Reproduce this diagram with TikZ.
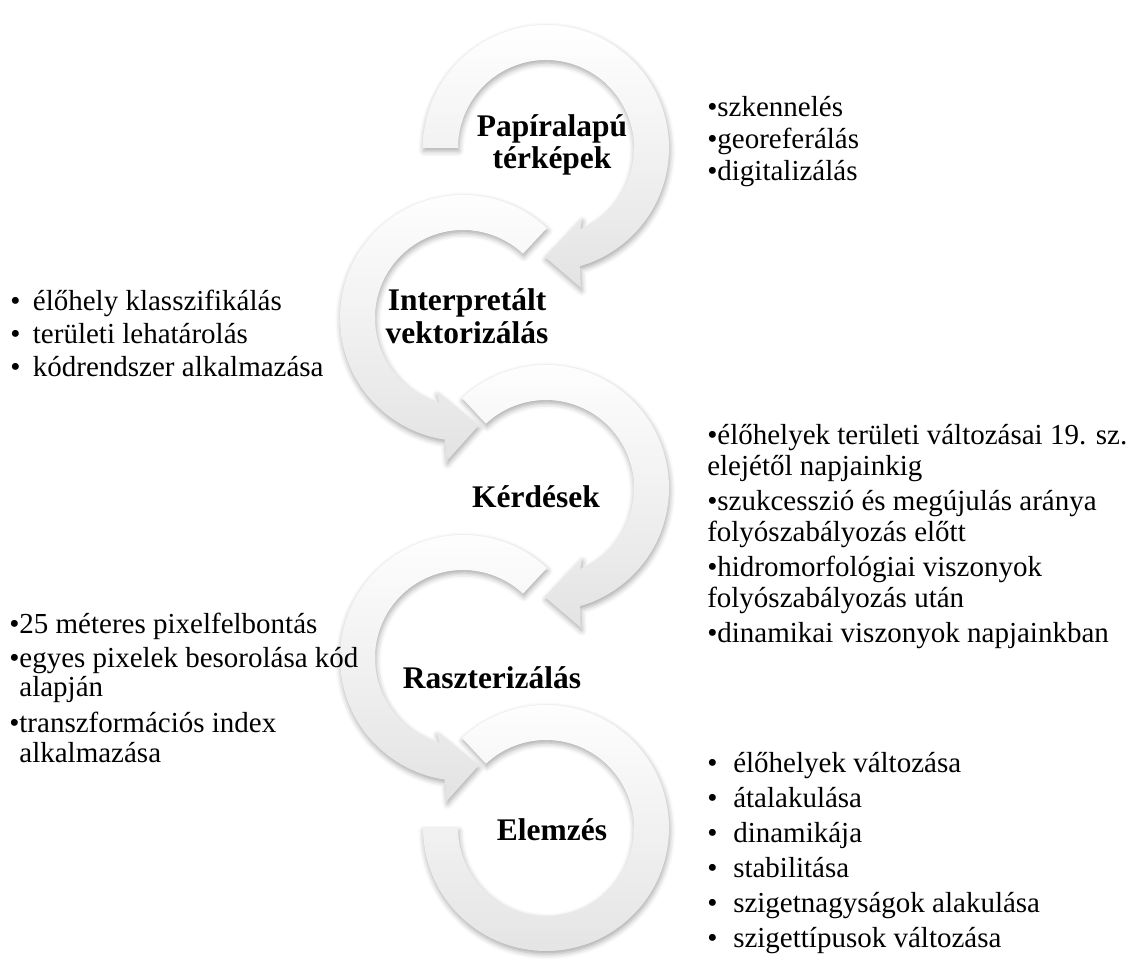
\documentclass[tikz,border=0pt]{standalone}
\usepackage{fontspec}
\setmainfont{Liberation Serif}
\usetikzlibrary{shadows.blur}

\newcommand{\bl}[1]{\makebox[#1][l]{•}}
% one ring arrow: centre, start, outer end, outer barb, tip, inner barb, inner end
\newcommand{\ringarrow}[7]{%
  \path[band, shift={(#1)}] (#2:123) arc[start angle=#2, end angle=#3, radius=123]
    -- (#4:144) -- (#5:109) -- (#6:79) -- (#7:88)
    arc[start angle=#7, end angle=#2, radius=88] -- cycle;}

\begin{document}
\begin{tikzpicture}[
  x=0.75pt, y=0.75pt,
  band/.style = {top color=white, bottom color=black!11, draw=none,
    blur shadow={shadow xshift=0.6pt, shadow yshift=-2.2pt, shadow blur radius=4pt, shadow opacity=35}},
  ttl/.style = {font=\fontsize{23.6}{24.5}\selectfont\bfseries, align=center, inner sep=0pt},
  lst/.style = {font=\fontsize{21.75}{23.6}\selectfont, align=left, anchor=base west, inner sep=0pt}
]
  \useasboundingbox (0,0) rectangle (1137,-965);

  \coordinate (c1) at (546,-148);
  \coordinate (c2) at (463,-318);
  \coordinate (c3) at (546,-488);
  \coordinate (c4) at (463,-658);
  \coordinate (c5) at (546,-828);

  \path[band, shift={(c5)}] (133:123) arc[start angle=133, end angle=-180, radius=123]
    -- (-180:88) arc[start angle=-180, end angle=133, radius=88] -- cycle;
  \ringarrow{c4}{47}{261.5}{263.5}{278}{250.5}{254.5}
  \ringarrow{c3}{133}{-74}{-76}{-90.5}{-63}{-67}
  \ringarrow{c2}{47}{261.5}{263.5}{278}{250.5}{254.5}
  \ringarrow{c1}{180}{-74}{-76}{-90.5}{-63}{-67}

  \node[ttl] (t1) at (552,-145) {Papíralapú\\térképek};
  \node[ttl] (t2) at (467,-316) {Interpretált\\vektorizálás};
  \node[ttl] (t3) at (536,-497) {Kérdések};
  \node[ttl] (t4) at (492,-678) {Raszterizálás};
  \node[ttl] (t5) at (552,-830) {Elemzés};

  % anchor is the baseline of the last line
  \node[lst, font=\fontsize{21.75}{24}\selectfont] (l1) at (707,-180) {•szkennelés\\•georeferálás\\•digitalizálás};
  \node[lst, font=\fontsize{21.75}{24.75}\selectfont] (l2) at (10,-376) {\bl{17pt}élőhely klasszifikálás\\\bl{17pt}területi lehatárolás\\\bl{17pt}kódrendszer alkalmazása};
  \node[lst, font=\fontsize{21.75}{23.25}\selectfont] (l3) at (707,-642) {•élőhelyek területi változásai 19. sz.\\elejétől napjainkig\\[3pt]
    •szukcesszió és megújulás aránya\\folyószabályozás előtt\\[3pt]
    •hidromorfológiai viszonyok\\folyószabályozás után\\[3pt]
    •dinamikai viszonyok napjainkban};
  \node[lst, font=\fontsize{21.75}{22}\selectfont] (l4) at (9,-762) {•25 méteres pixelfelbontás\\[3.5pt]
    •egyes pixelek besorolása kód\\\phantom{•}alapján\\[5pt]
    •transzformációs index\\\phantom{•}alkalmazása};
  \node[lst, font=\fontsize{21.75}{26.25}\selectfont] (l5) at (707,-947) {\bl{19.5pt}élőhelyek változása\\\bl{19.5pt}átalakulása\\\bl{19.5pt}dinamikája\\\bl{19.5pt}stabilitása\\\bl{19.5pt}szigetnagyságok alakulása\\\bl{19.5pt}szigettípusok változása};
\end{tikzpicture}
\end{document}
